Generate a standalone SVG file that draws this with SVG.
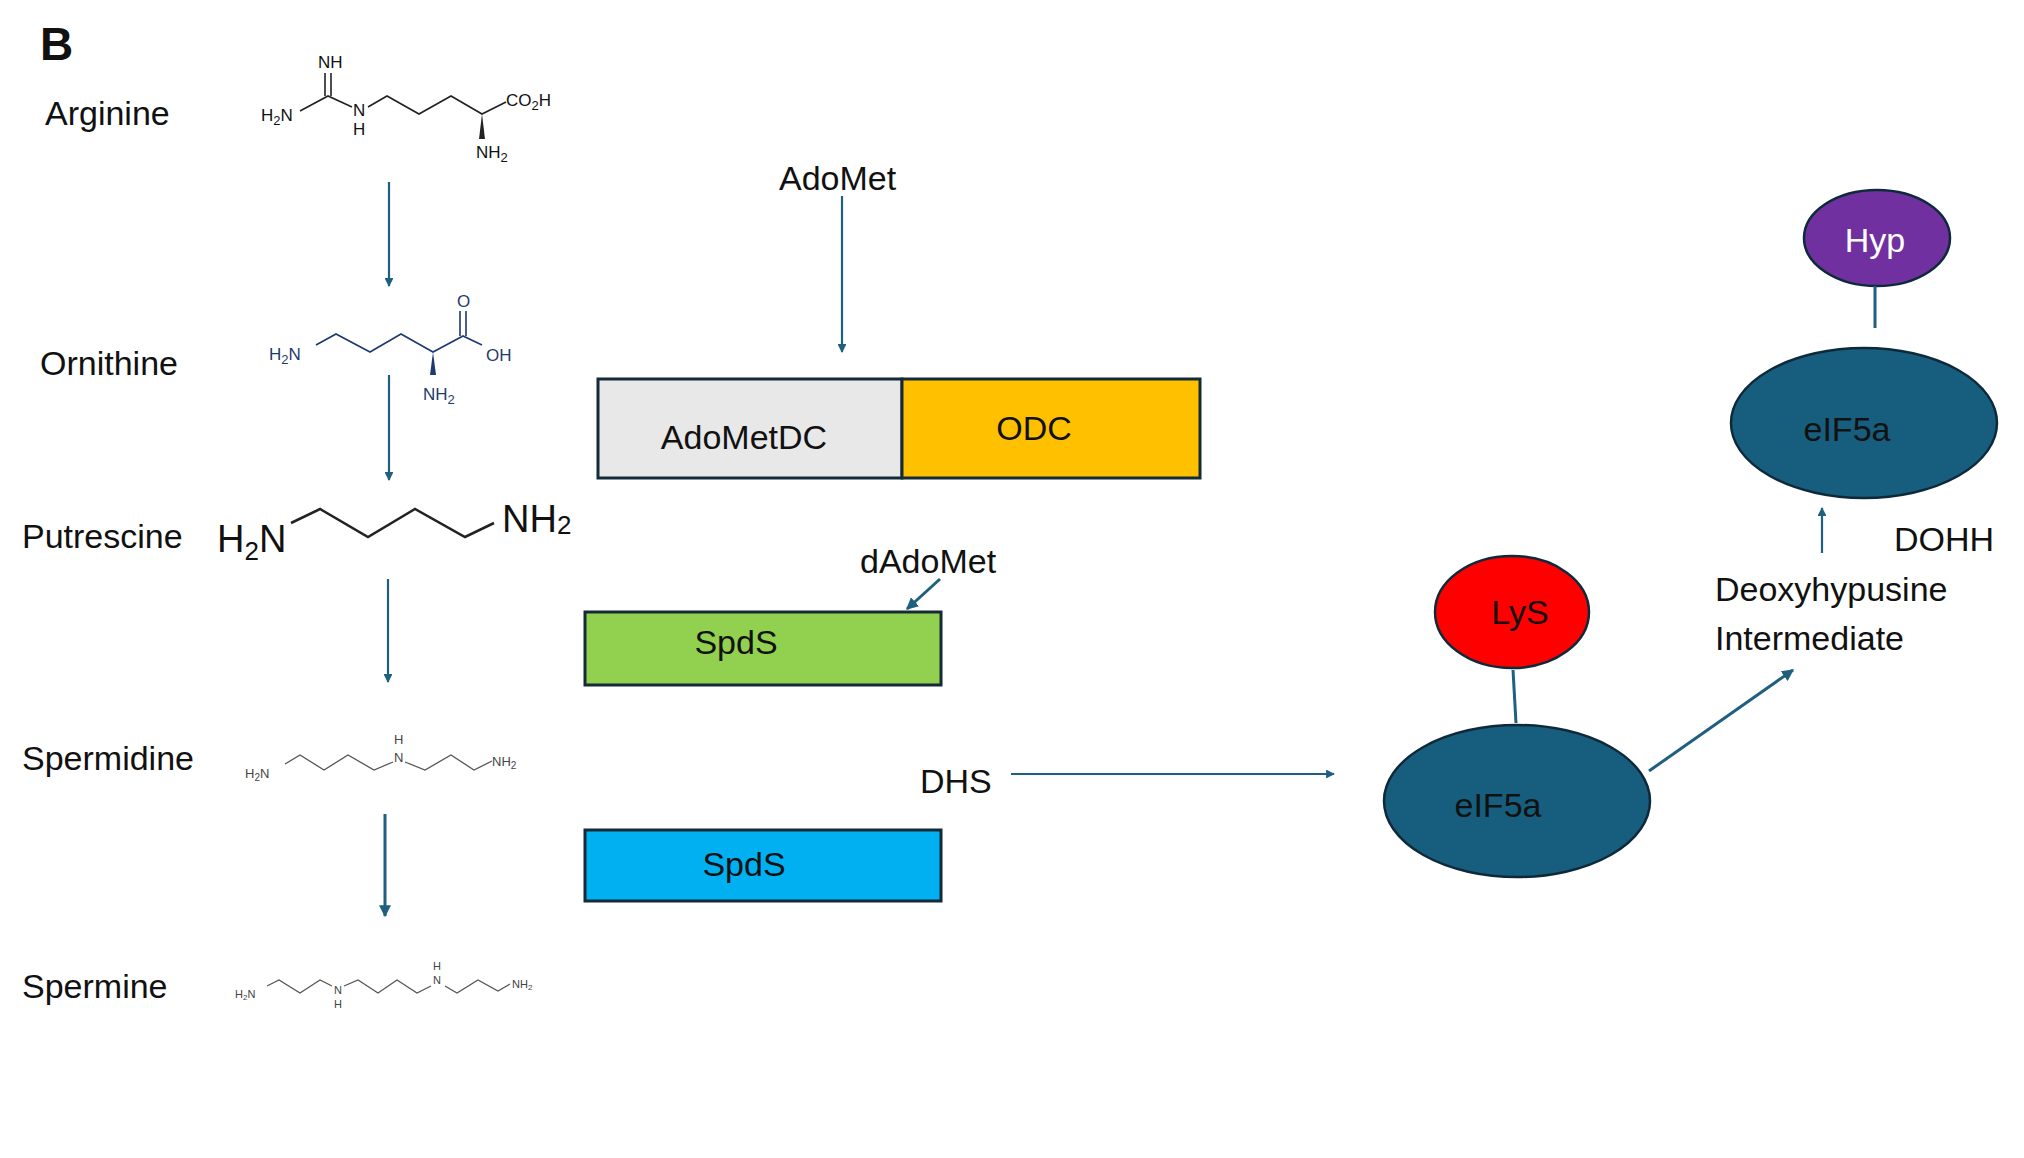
<svg xmlns="http://www.w3.org/2000/svg" width="2024" height="1158" viewBox="0 0 2024 1158">
<style>
text{font-family:"Liberation Sans","Open Sans",sans-serif;fill:#111}
.lbl{font-size:34px}
.mol{fill:none;stroke:#222;stroke-width:1.6}
.orn{fill:none;stroke:#1f3a6e;stroke-width:1.6}
.ch{font-size:17px}
.chs{font-size:13px}
.con{fill:none;stroke:#1f5f80;stroke-width:2.2}
.box{stroke:#142a36;stroke-width:3}
.ell{fill:#175e7e;stroke:#0e2a3a;stroke-width:2.5}
</style>
<defs>
<marker id="ah" viewBox="0 0 10 10" refX="9" refY="5" markerWidth="4" markerHeight="4" orient="auto"><path d="M0,0L10,5L0,10z" fill="#1f5f80"/></marker>
</defs>
<rect width="2024" height="1158" fill="#fff"/>
<text x="40" y="60" style="font-size:46px;font-weight:bold">B</text>

<g id="arginine">
<text class="lbl" x="45" y="125">Arginine</text>
<path class="mol" d="M300,111L328,96L352,107M368,107L387,96L419,114L451,96L482,114L506,102M325,96V73M331,96V73"/>
<path d="M482,114L479,139L485,139z" fill="#222"/>
<text class="ch" x="318" y="68">NH</text>
<text class="ch" x="261" y="121">H<tspan class="chs" dy="4">2</tspan><tspan dy="-4">N</tspan></text>
<text class="ch" x="353" y="116">N</text><text class="ch" x="353" y="135">H</text>
<text class="ch" x="506" y="106">CO<tspan class="chs" dy="4">2</tspan><tspan dy="-4">H</tspan></text>
<text class="ch" x="476" y="158">NH<tspan class="chs" dy="4">2</tspan></text>
</g>

<g id="ornithine">
<text class="lbl" x="40" y="375">Ornithine</text>
<path class="orn" d="M316,345L336,334L370,352L401,334L433,352L463,336L482,345M460,336V311M466,336V311"/>
<path d="M433,352L430,375L436,375z" fill="#1f3a6e"/>
<g style="fill:#1f3a6e">
<text class="ch" x="269" y="360" style="fill:#1f3a6e">H<tspan class="chs" dy="4">2</tspan><tspan dy="-4">N</tspan></text>
<text class="ch" x="457" y="307" style="fill:#1f3a6e">O</text>
<text class="ch" x="486" y="361" style="fill:#1f3a6e">OH</text>
<text class="ch" x="423" y="400" style="fill:#1f3a6e">NH<tspan class="chs" dy="4">2</tspan></text>
</g>
</g>

<g id="putrescine">
<text class="lbl" x="22" y="548">Putrescine</text>
<text x="217" y="552" style="font-size:38px">H<tspan style="font-size:26px" dy="8">2</tspan><tspan dy="-8">N</tspan></text>
<path class="mol" style="stroke-width:2.5" d="M291,523L320,509L368,537L415,509L465,537L494,523"/>
<text x="502" y="532" style="font-size:38px">NH<tspan style="font-size:26px" dy="2">2</tspan></text>
</g>

<g id="spermidine">
<text class="lbl" x="22" y="770">Spermidine</text>
<path class="mol" style="stroke:#555;stroke-width:1.3" d="M285,764L300,755L324,770L348,755L374,770L393,762M405,762L425,770L451,755L474,770L492,761"/>
<text class="chs" x="245" y="778" style="fill:#444">H<tspan style="font-size:10px" dy="3">2</tspan><tspan dy="-3">N</tspan></text>
<text class="chs" x="394" y="744" style="fill:#444">H</text>
<text class="chs" x="394" y="762" style="fill:#444">N</text>
<text class="chs" x="492" y="766" style="fill:#444">NH<tspan style="font-size:10px" dy="3">2</tspan></text>
</g>

<g id="spermine">
<text class="lbl" x="22" y="998">Spermine</text>
<path class="mol" style="stroke:#555;stroke-width:1.2" d="M267,986L279,980L300,993L320,980L332,986M344,986L358,980L378,993L397,980L417,993L431,986M445,986L457,993L478,980L498,991L510,984"/>
<text style="font-size:11px;fill:#444" x="235" y="998">H<tspan style="font-size:8px" dy="2">2</tspan><tspan dy="-2">N</tspan></text>
<text style="font-size:11px;fill:#444" x="334" y="994">N</text>
<text style="font-size:11px;fill:#444" x="334" y="1008">H</text>
<text style="font-size:11px;fill:#444" x="433" y="984">N</text>
<text style="font-size:11px;fill:#444" x="433" y="970">H</text>
<text style="font-size:11px;fill:#444" x="512" y="988">NH<tspan style="font-size:8px" dy="2">2</tspan></text>
</g>

<g id="adomet"><text class="lbl" x="779" y="190">AdoMet</text></g>
<g id="adometdc"><rect class="box" x="598" y="379" width="304" height="99" fill="#e8e8e8"/><text class="lbl" x="744" y="449" text-anchor="middle">AdoMetDC</text></g>
<g id="odc"><rect class="box" x="902" y="379" width="298" height="99" fill="#ffc000"/><text class="lbl" x="1034" y="440" text-anchor="middle">ODC</text></g>
<g id="dadomet"><text class="lbl" x="860" y="573">dAdoMet</text></g>
<g id="spds1"><rect class="box" x="585" y="612" width="356" height="73" fill="#92d050"/><text class="lbl" x="736" y="654" text-anchor="middle">SpdS</text></g>
<g id="dhs"><text class="lbl" x="920" y="793">DHS</text></g>
<g id="spds2"><rect class="box" x="585" y="830" width="356" height="71" fill="#00b0f0"/><text class="lbl" x="744" y="876" text-anchor="middle">SpdS</text></g>

<g id="hyp"><ellipse cx="1877" cy="238" rx="73" ry="48" fill="#7030a0" stroke="#0e2a3a" stroke-width="2.5"/><text class="lbl" x="1875" y="252" text-anchor="middle" style="fill:#fff">Hyp</text></g>
<g id="eif5a-top"><ellipse class="ell" cx="1864" cy="423" rx="133" ry="75"/><text class="lbl" x="1847" y="441" text-anchor="middle">eIF5a</text></g>
<g id="dohh"><text class="lbl" x="1894" y="551">DOHH</text></g>
<g id="intermediate"><text class="lbl" x="1715" y="601">Deoxyhypusine</text><text class="lbl" x="1715" y="650">Intermediate</text></g>
<g id="lys"><ellipse cx="1512" cy="612" rx="77" ry="56" fill="#ff0000" stroke="#0e2a3a" stroke-width="2.5"/><text class="lbl" x="1520" y="624" text-anchor="middle">LyS</text></g>
<g id="eif5a-bottom"><ellipse class="ell" cx="1517" cy="801" rx="133" ry="76"/><text class="lbl" x="1498" y="817" text-anchor="middle">eIF5a</text></g>

<g id="connectors">
<line class="con" x1="389" y1="182" x2="389" y2="286" marker-end="url(#ah)"/>
<line class="con" x1="389" y1="375" x2="389" y2="480" marker-end="url(#ah)"/>
<line class="con" x1="388" y1="579" x2="388" y2="682" marker-end="url(#ah)"/>
<line class="con" style="stroke-width:3" x1="385" y1="814" x2="385" y2="916" marker-end="url(#ah)"/>
<line class="con" x1="842" y1="196" x2="842" y2="352" marker-end="url(#ah)"/>
<line class="con" style="stroke-width:3" x1="940" y1="579" x2="907" y2="609" marker-end="url(#ah)"/>
<line class="con" x1="1011" y1="774" x2="1334" y2="774" marker-end="url(#ah)"/>
<line class="con" style="stroke-width:3" x1="1513" y1="670" x2="1516" y2="723"/>
<line class="con" style="stroke-width:3" x1="1649" y1="771" x2="1793" y2="670" marker-end="url(#ah)"/>
<line class="con" x1="1822" y1="553" x2="1822" y2="508" marker-end="url(#ah)"/>
<line class="con" style="stroke-width:3" x1="1875" y1="286" x2="1875" y2="328"/>
</g>
</svg>
